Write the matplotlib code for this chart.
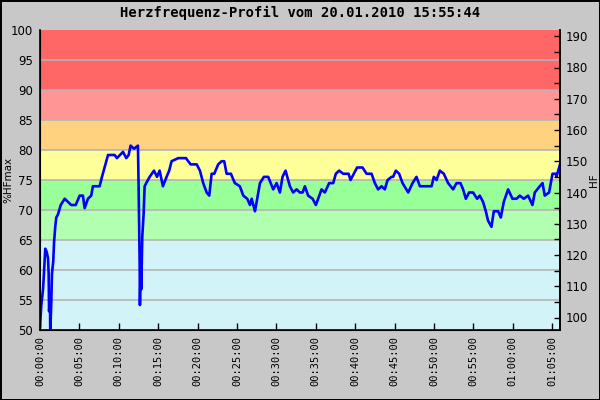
import matplotlib
matplotlib.use("Agg")
import matplotlib.pyplot as plt
import matplotlib.ticker as mtick

HF_MAX = 192
title = "Herzfrequenz-Profil vom 20.01.2010 15:55:44"

# zones in %HFmax
zone_edges = [50, 65, 70, 75, 80, 85, 90, 100]
zone_colors = ["#D2F4F8", "#B2FFB2", "#99FF99", "#FFFF99", "#FFD280", "#FF9595", "#FF6666"]

# time (s) and heart rate (bpm)
t_sec = [0, 10, 23, 30, 40, 51, 61, 66, 69, 76, 78, 86, 91, 101, 107, 116, 124, 137,
         158, 188, 238, 272, 302, 327, 340, 365, 390, 403, 454, 472, 492, 518, 569,
         586, 632, 657, 675, 690, 716, 746, 751, 759, 761, 767, 771, 779, 789, 797,
         809, 835, 868, 891, 911, 936, 964, 984, 1002, 1053, 1079, 1111, 1147, 1193,
         1218, 1243, 1269, 1289, 1307, 1327, 1357, 1383, 1403, 1421, 1454, 1484,
         1522, 1548, 1578, 1599, 1612, 1637, 1650, 1675, 1705, 1738, 1776, 1802,
         1827, 1847, 1870, 1903, 1928, 1954, 1979, 2000, 2017, 2042, 2076, 2101,
         2118, 2144, 2169, 2202, 2233, 2253, 2278, 2309, 2350, 2365, 2390, 2415,
         2436, 2456, 2487, 2525, 2550, 2575, 2601, 2626, 2647, 2677, 2689, 2710,
         2735, 2761, 2804, 2837, 2867, 2893, 2982, 2999, 3020, 3045, 3075, 3108,
         3146, 3172, 3202, 3222, 3243, 3268, 3298, 3329, 3349, 3374, 3395, 3412,
         3438, 3456, 3489, 3509, 3532, 3565, 3598, 3629, 3654, 3684, 3717, 3750,
         3768, 3806, 3827, 3844, 3877, 3903, 3928, 3933, 3953, 3960]
hf = [97, 104, 109, 114, 122, 121, 119, 114, 102, 106, 95, 105, 114, 118, 124, 129,
      132, 133, 136, 138, 136, 136, 139, 139, 135, 138, 139, 142, 142, 145, 148, 152,
      152, 151, 153, 151, 152, 155, 154, 155, 142, 117, 104, 118, 109, 126, 133, 142,
      143, 145, 147, 145, 147, 142, 145, 147, 150, 151, 151, 151, 149, 149, 147, 143,
      140, 139, 146, 146, 149, 150, 150, 146, 146, 143, 142, 139, 138, 136, 138, 134,
      137, 143, 145, 145, 141, 143, 140, 145, 147, 142, 140, 141, 140, 140, 142, 139,
      138, 136, 138, 141, 140, 143, 143, 146, 147, 146, 146, 144, 146, 148, 148, 148,
      146, 146, 143, 141, 142, 141, 144, 145, 145, 147, 146, 143, 140, 143, 145, 142,
      142, 145, 144, 147, 146, 143, 141, 143, 143, 141, 138, 140, 140, 138, 139, 137,
      134, 131, 129, 134, 134, 132, 137, 141, 138, 138, 139, 138, 139, 136, 140, 142,
      143, 139, 140, 146, 146, 145, 148, 149]

t_end = 3960
hf_ticks = list(range(100, 191, 10))


def hms(x, pos=None):
    x = int(round(x))
    return "%02d:%02d:%02d" % (x // 3600, (x % 3600) // 60, x % 60)


fig = plt.figure(figsize=(6, 4), dpi=100, facecolor="#C8C8C8",
                 edgecolor="black", linewidth=2)
ax = fig.add_axes([40 / 600, 70 / 400, 520 / 600, 300 / 400])

for lo, hi, c in zip(zone_edges[:-1], zone_edges[1:], zone_colors):
    ax.axhspan(lo, hi, color=c, zorder=0, linewidth=0)
for y in range(55, 100, 5):
    ax.axhline(y, color="#B4B4B4", linewidth=1.2, zorder=1)

pct = [v / HF_MAX * 100 for v in hf]
ax.plot(t_sec, pct, color="#0000FF", linewidth=1.9, zorder=3, clip_on=True)

ax.set_xlim(0, t_end)
ax.set_ylim(50, 100)
ax.set_yticks(range(50, 101, 5))
ax.xaxis.set_major_locator(mtick.MultipleLocator(300))
ax.xaxis.set_major_formatter(mtick.FuncFormatter(hms))
ax.tick_params(axis="x", direction="in", length=5, width=1, labelsize=7.5,
               labelrotation=90, pad=4)
ax.tick_params(axis="y", length=0, labelsize=8.5, pad=5)
for lab in ax.get_xticklabels():
    lab.set_family("DejaVu Sans Mono")
ax.set_ylabel("%HFmax", fontsize=7.5)
ax.yaxis.set_label_coords(-27 / 520, 0.5)
ax.spines["top"].set_visible(False)
for s in ["left", "bottom", "right"]:
    ax.spines[s].set_linewidth(1.2)

ax2 = ax.twinx()
ax2.set_ylim(HF_MAX * 0.5, HF_MAX)
ax2.set_yticks(hf_ticks)
ax2.yaxis.set_minor_locator(mtick.MultipleLocator(5))
ax2.tick_params(axis="y", which="both", direction="in", length=4, width=1,
                labelsize=8.5, pad=4)
ax2.set_ylabel("HF", fontsize=7.5)
ax2.yaxis.set_label_coords(1 + 29 / 520, 0.5)
ax2.spines["top"].set_visible(False)
ax2.spines["right"].set_linewidth(1.2)

fig.text(0.5, 1 - 13 / 400, title, ha="center", va="center",
         family="DejaVu Sans Mono", fontsize=10, fontweight="bold")

fig.savefig("out.png", dpi=100, facecolor=fig.get_facecolor(), edgecolor="black")
